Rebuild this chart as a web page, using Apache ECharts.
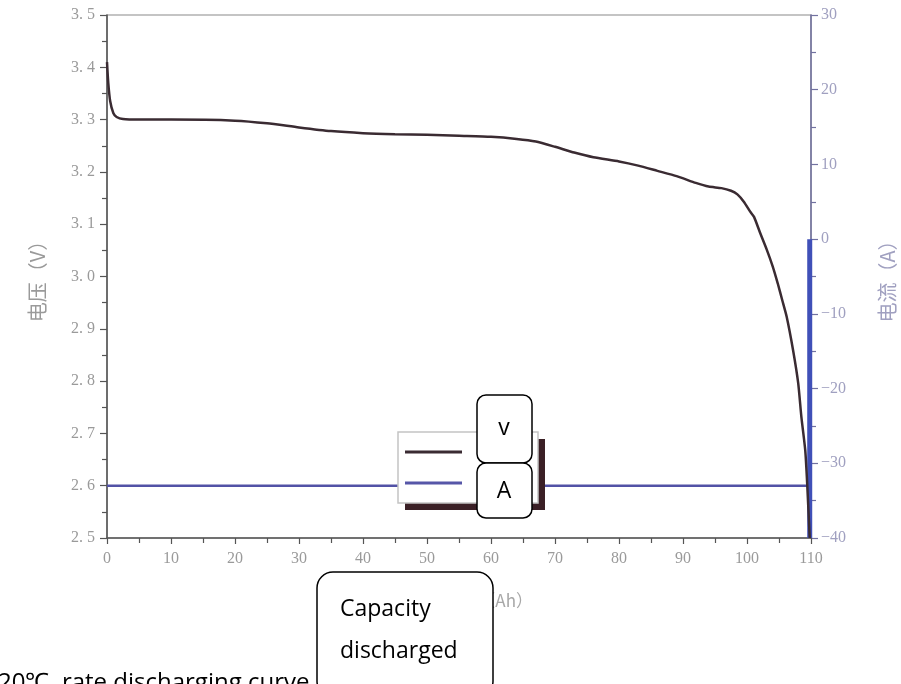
<!DOCTYPE html>
<html>
<head>
<meta charset="utf-8">
<script src="https://cdn.jsdelivr.net/npm/echarts@6/dist/echarts.min.js"></script>
<style>
html,body{margin:0;padding:0;background:#fff;}
#chart{width:901px;height:684px;}
</style>
</head>
<body>
<div id="chart"></div>
<script>
// Voltage curve (capacity in Ah, voltage in V)
var capacityV = [0, 0.2, 0.5, 1, 1.5, 2.5, 5, 10, 20, 25, 30, 35, 40, 45, 50, 55, 60, 64, 67, 70, 73, 76, 80, 83, 86, 89, 92, 94, 96, 97.5, 98.5, 99.5, 100.5, 101.1, 102, 103.1, 104, 104.8, 105.5, 106.2, 107.2, 108, 108.5, 109.1, 109.4, 109.8];
var voltage = [3.41, 3.37, 3.335, 3.312, 3.305, 3.301, 3.3, 3.3, 3.298, 3.293, 3.285, 3.278, 3.274, 3.272, 3.271, 3.269, 3.267, 3.263, 3.258, 3.248, 3.237, 3.228, 3.22, 3.212, 3.202, 3.192, 3.179, 3.172, 3.169, 3.164, 3.157, 3.143, 3.124, 3.114, 3.085, 3.051, 3.02, 2.987, 2.955, 2.923, 2.859, 2.796, 2.731, 2.668, 2.605, 2.5];
// Current (A)
var capacityA = [0, 109.8];
var current = [-33, -33];
var capacityAEnd = [109.8, 109.8];
var currentEnd = [-40, 0];

var xTicks = [0, 10, 20, 30, 40, 50, 60, 70, 80, 90, 100, 110];
var vTicks = [2.5, 2.6, 2.7, 2.8, 2.9, 3.0, 3.1, 3.2, 3.3, 3.4, 3.5];
var aTicks = [-40, -30, -20, -10, 0, 10, 20, 30];

var legendNames = ['V', 'A'];
var xName = '放电容量（Ah）';
var vName = '电压（V）';
var aName = '电流（A）';
var boxText = 'Capacity\ndischarged';
var caption = '20℃  rate discharging curve';

function zip(a, b) { return a.map(function (x, i) { return [x, b[i]]; }); }

var serif = '"Liberation Serif", "DejaVu Serif", serif';
var chart = echarts.init(document.getElementById('chart'), null, {renderer: 'canvas'});
chart.setOption({
  animation: false,
  backgroundColor: '#fff',
  grid: {left: 107, right: 90, top: 15, bottom: 146, show: true, borderColor: '#8a8a8a', borderWidth: 1.2,
    containLabel: false, outerBoundsMode: 'none'},
  xAxis: {
    type: 'value', min: xTicks[0], max: xTicks[xTicks.length - 1], interval: 10,
    axisLine: {onZero: false, lineStyle: {color: '#555', width: 1.5}},
    axisTick: {show: true, length: 6, lineStyle: {color: '#555', width: 1.2}},
    minorTick: {show: true, splitNumber: 2, length: 5, lineStyle: {color: '#555', width: 1.2}},
    splitLine: {show: false},
    axisLabel: {color: '#9a9a9a', fontFamily: serif, fontSize: 16, margin: 13}
  },
  yAxis: [{
    type: 'value', min: vTicks[0], max: vTicks[vTicks.length - 1], interval: 0.1,
    position: 'left',
    axisLine: {show: true, onZero: false, lineStyle: {color: '#555', width: 1.5}},
    axisTick: {show: true, length: 7, lineStyle: {color: '#555', width: 1.2}},
    minorTick: {show: true, splitNumber: 2, length: 5, lineStyle: {color: '#555', width: 1.2}},
    splitLine: {show: false},
    axisLabel: {color: '#9a9a9a', fontFamily: serif, fontSize: 16, margin: 12,
      formatter: function (v) { return v.toFixed(1).replace('.', '. '); }},
    name: vName, nameLocation: 'middle', nameGap: 60, nameRotate: 90,
    nameTextStyle: {color: '#9a9a9a', fontSize: 20, fontFamily: '"Noto Sans CJK SC"'}
  }, {
    type: 'value', min: aTicks[0], max: aTicks[aTicks.length - 1], interval: 10,
    position: 'right',
    axisLine: {show: true, onZero: false, lineStyle: {color: '#7272a0', width: 1.5}},
    axisTick: {show: true, length: 7, lineStyle: {color: '#7272a0', width: 1.2}},
    minorTick: {show: true, splitNumber: 2, length: 5, lineStyle: {color: '#7272a0', width: 1.2}},
    splitLine: {show: false},
    axisLabel: {color: '#a0a0c0', fontFamily: serif, fontSize: 16, margin: 10,
      formatter: function (v) { return v < 0 ? '\u2212' + Math.abs(v) : String(v); }},
    name: aName, nameLocation: 'middle', nameGap: 66, nameRotate: 90,
    nameTextStyle: {color: '#a0a0c0', fontSize: 20, fontFamily: '"Noto Sans CJK SC"'}
  }],
  legend: {
    orient: 'vertical', left: 398, top: 432,
    data: legendNames,
    icon: 'rect',
    padding: [13, 6, 13, 7], itemGap: 17, itemWidth: 57, itemHeight: 3, itemTextGap: 22,
    textStyle: {color: 'rgba(0,0,0,0)', fontSize: 12, lineHeight: 14},
    selectedMode: false, z: 6
  },
  series: [{
    name: legendNames[1], type: 'line', yAxisIndex: 1, data: zip(capacityA, current),
    symbol: 'none', color: '#5656a8', lineStyle: {color: '#5252a6', width: 2.5}, z: 2
  }, {
    name: 'A-end', type: 'line', yAxisIndex: 1, data: zip(capacityAEnd, currentEnd),
    symbol: 'none', lineStyle: {color: '#4050b8', width: 5}, z: 2
  }, {
    name: legendNames[0], type: 'line', yAxisIndex: 0, data: zip(capacityV, voltage),
    symbol: 'none', smooth: 0.2, color: '#3a2b32',
    lineStyle: {color: '#3a2b32', width: 2.5}, z: 3
  }],
  graphic: [
    // legend shadow and box
    {type: 'rect', shape: {x: 405, y: 439, width: 140, height: 71}, style: {fill: '#3b2026'}, z: 3},
    {type: 'rect', shape: {x: 398, y: 432, width: 140, height: 71}, style: {fill: '#fff', stroke: '#c4c4c4', lineWidth: 1.5}, z: 4},
    // v / A overlay boxes
    {type: 'rect', shape: {x: 477, y: 395, width: 55, height: 68, r: 9}, style: {fill: '#fff', stroke: '#000', lineWidth: 1.5}, z: 50},
    {type: 'text', x: 504, y: 428, style: {text: 'v', fill: '#000', font: '23px "Open Sans", sans-serif', align: 'center', verticalAlign: 'middle'}, z: 51},
    {type: 'rect', shape: {x: 477, y: 463, width: 55, height: 55, r: 9}, style: {fill: '#fff', stroke: '#000', lineWidth: 1.5}, z: 50},
    {type: 'text', x: 504, y: 491, style: {text: 'A', fill: '#000', font: '23px "Open Sans", sans-serif', align: 'center', verticalAlign: 'middle'}, z: 51},
    // x axis name (partly hidden by the box)
    {type: 'text', x: 533, y: 601, style: {text: xName, fill: '#a8a8a8', font: '17px "Noto Sans CJK SC"', align: 'right', verticalAlign: 'middle'}, z: 10},
    // capacity discharged box
    {type: 'rect', shape: {x: 317, y: 572, width: 176, height: 125, r: 16}, style: {fill: '#fff', stroke: '#000', lineWidth: 1.5}, z: 50},
    {type: 'text', x: 340, y: 630, style: {text: boxText, fill: '#000', font: '23px "Open Sans", sans-serif', lineHeight: 42, align: 'left', verticalAlign: 'middle'}, z: 51},
    // caption (cut at bottom)
    {type: 'text', x: -2, y: 683, style: {text: caption, fill: '#000', font: '24px "Open Sans", sans-serif', align: 'left', verticalAlign: 'middle'}, z: 40}
  ]
});
</script>
</body>
</html>
